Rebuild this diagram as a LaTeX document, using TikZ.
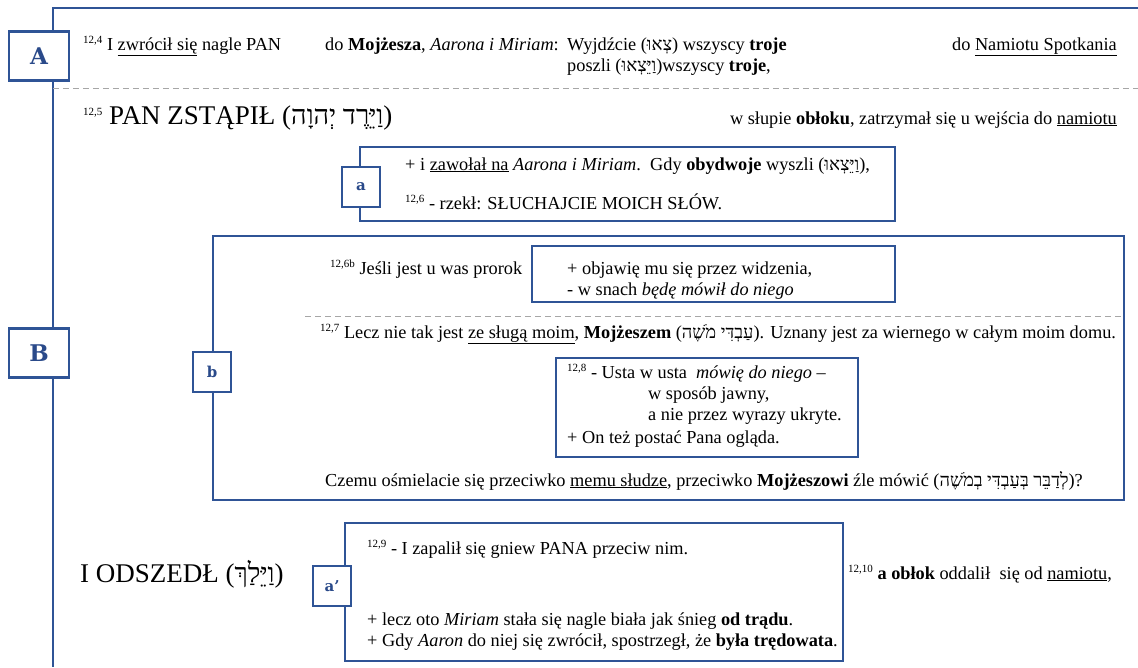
\documentclass[tikz,border=0pt]{standalone}
\usepackage{fontspec}
\setmainfont{Liberation Serif}
\newfontfamily\hebfont[Script=Hebrew]{Liberation Serif}
\newfontfamily\tagfont{DejaVu Serif}
\TeXXeTstate=1
\definecolor{frameblue}{HTML}{2F5496}
\definecolor{tagblue}{HTML}{2A4A8A}
\definecolor{cutgray}{HTML}{A6A6A6}
\newcommand\heb[1]{{\hebfont\beginR#1\endR}}
\newcommand\verseno[1]{\raisebox{.33em}{\fontsize{11}{11}\selectfont#1}}
\tikzset{
  bluebox/.style={draw=frameblue, line width=2.6pt},
  sectag/.style={bluebox, fill=white, text=tagblue, inner sep=0pt,
    font=\tagfont\bfseries\fontsize{23}{23}\selectfont,
    minimum width=60pt, minimum height=49pt},
  subtag/.style={sectag, font=\tagfont\bfseries\fontsize{15}{15}\selectfont,
    minimum width=38pt, minimum height=40pt},
  cut/.style={draw=cutgray, line width=1pt, dash pattern=on 6pt off 4pt},
  txt/.style={anchor=base west, inner sep=0pt, font=\fontsize{18.3}{21}\selectfont},
  big/.style={txt, font=\fontsize{27}{30}\selectfont},
}
\begin{document}
\begin{tikzpicture}[x=1pt, y=-1pt]
\useasboundingbox (0,0) rectangle (1138,667);

% brackets and boxes
\draw[bluebox] (1138,8) -- (53,8) -- (53,667);
\draw[bluebox] (360,147) rectangle (895,221);
\draw[bluebox] (213,236) rectangle (1124,500);
\draw[bluebox] (532,246) rectangle (895,302);
\draw[bluebox] (556,358) rectangle (858,457);
\draw[bluebox] (345,523) rectangle (843,661);
\draw[cut] (53,88) -- (1138,88);
\draw[cut] (305,316) -- (1124,316);

\node[sectag] (A) at (39,56) {A};
\node[sectag] (B) at (39,353) {B};
\node[subtag] (a) at (361,187) {a};
\node[subtag] (b) at (212,372) {b};
\node[subtag] (aprime) at (332,586) {a’};

%%%%%%%%%%%%%%%%%%%%%%%%%%%%%%%%%%%%%%%%

\node[txt] (v124) at (83,50) {\verseno{12,4} I \underline{zwrócił się} nagle PAN};
\node[txt] (v124b) at (325,50) {do \textbf{Mojżesza}, \textit{Aarona i Miriam}:};
\node[txt] (v124c) at (567,50) {Wyjdźcie (\heb{צְאוּ}) wszyscy \textbf{troje}};
\node[txt] (v124d) at (567,71) {poszli (\heb{וַיֵּצְאוּ})wszyscy \textbf{troje},};
\node[txt, anchor=base east] (v124e) at (1117,50) {do \underline{Namiotu Spotkania}};

\node[big] (v125) at (83,124) {\verseno{12,5} PAN ZSTĄPIŁ (\heb{וַיֵּרֶד יְהוָה})};
\node[txt, anchor=base east] (v125b) at (1117,124) {w słupie \textbf{obłoku}, zatrzymał się u wejścia do \underline{namiotu}};

\node[txt] (v125c) at (405,170) {+ i \underline{zawołał na} \textit{Aarona i Miriam}.\ \ Gdy \textbf{obydwoje} wyszli (\heb{וַיֵּצְאוּ}),};
\node[txt] (v126) at (405,209) {\verseno{12,6} - rzekł: SŁUCHAJCIE MOICH SŁÓW.};

%%%%%%%%%%%%%%%%%%%%%%%%%%%%%%%%%%%%%%%%

\node[txt] (v126b) at (330,274) {\verseno{12,6b} Jeśli jest u was prorok};
\node[txt] (v126c) at (567,274) {+ objawię mu się przez widzenia,};
\node[txt] (v126d) at (567,295) {- w snach \textit{będę mówił do niego}};
\node[txt] (v127) at (320,338) {\verseno{12,7} Lecz nie tak jest \underline{ze sługą moim}, \textbf{Mojżeszem} (\heb{עַבְדִּי מֹשֶׁה}). Uznany jest za wiernego w całym moim domu.};
\node[txt] (v128) at (567,378) {\verseno{12,8} - Usta w usta\ \ \textit{mówię do niego} –};
\node[txt] (v128b) at (648,399) {w sposób jawny,};
\node[txt] (v128c) at (648,420) {a nie przez wyrazy ukryte.};
\node[txt] (v128d) at (567,443) {+ On też postać Pana ogląda.};
\node[txt] (v128e) at (325,486) {Czemu ośmielacie się przeciwko \underline{memu słudze}, przeciwko \textbf{Mojżeszowi} źle mówić (\heb{לְדַבֵּר בְּעַבְדִּי בְמֹשֶׁה})?};

%%%%%%%%%%%%%%%%%%%%%%%%%%%%%%%%%%%%%%%%

\node[big] (odszedl) at (80,582) {I ODSZEDŁ (\heb{וַיֵּלַךְ})};
\node[txt] (v129) at (367,554) {\verseno{12,9} - I zapalił się gniew PANA przeciw nim.};
\node[txt] (v129b) at (367,625) {+ lecz oto \textit{Miriam} stała się nagle biała jak śnieg \textbf{od trądu}.};
\node[txt] (v129c) at (367,646) {+ Gdy \textit{Aaron} do niej się zwrócił, spostrzegł, że \textbf{była trędowata}.};
\node[txt] (v1210) at (848,579) {\verseno{12,10} \textbf{a obłok} oddalił\ \ się od \underline{namiotu},};

\end{tikzpicture}
\end{document}
